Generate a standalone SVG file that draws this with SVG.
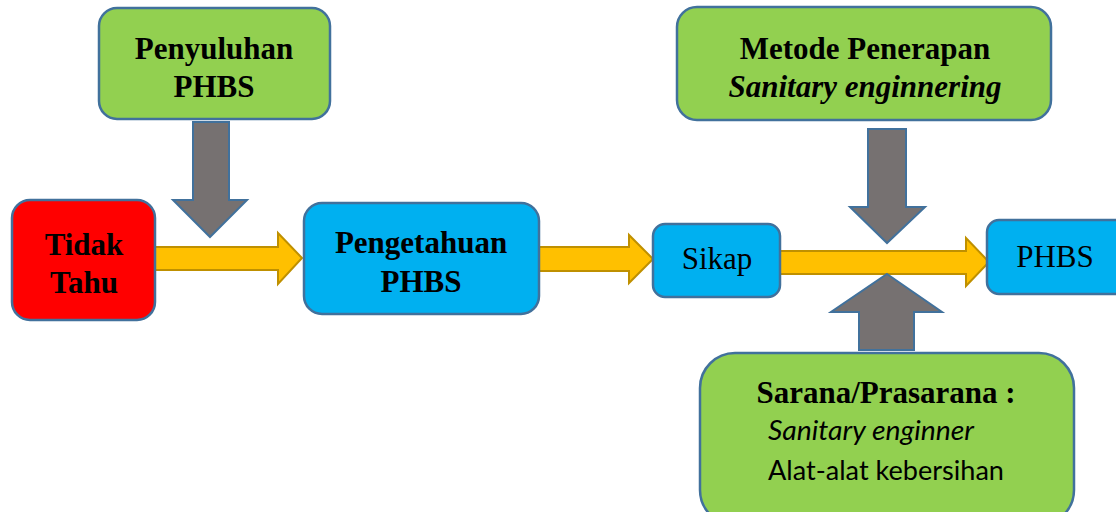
<svg xmlns="http://www.w3.org/2000/svg" width="1116" height="512" viewBox="0 0 1116 512">
<style>
.box{stroke:#41719C;stroke-width:2.5}
.green{fill:#92D050}
.blue{fill:#00B0F0}
.red{fill:#FF0000}
.yarrow{fill:#FFC000;stroke:#BF9000;stroke-width:2}
.garrow{fill:#767171;stroke:#41719C;stroke-width:2}
.tb{font-family:"Liberation Serif","Times New Roman",serif;font-weight:bold;font-size:31px;fill:#000;text-anchor:middle}
.tr{font-family:"Liberation Serif","Times New Roman",serif;font-size:31px;fill:#000;text-anchor:middle}
.ti{font-family:"Liberation Serif","Times New Roman",serif;font-weight:bold;font-style:italic;font-size:31px;fill:#000;text-anchor:middle}
.sans{font-family:Lato,"Liberation Sans",sans-serif;font-size:27px;fill:#000}
</style>
<rect width="1116" height="512" fill="#FFFFFF"/>
<g id="connectors">
<polygon class="yarrow" points="155,247 278,247 278,233 302,258 278,284 278,270 155,270"/>
<polygon class="yarrow" points="539,247 629,247 629,235 653,259 629,283 629,271 539,271"/>
<polygon class="yarrow" points="780,251 966,251 966,238 989,262 966,286 966,274 780,274"/>
<polygon class="garrow" points="193,122 229,122 229,200 247,200 210,237 173,200 193,200"/>
<polygon class="garrow" points="868,129 906,129 906,207 925,207 887,243 850,207 868,207"/>
<polygon class="garrow" points="887,274 942,312 914,312 914,350 859,350 859,312 831,312"/>
</g>
<g id="penyuluhan">
<rect class="box green" x="99" y="8" width="231" height="111" rx="18"/>
<text class="tb" x="214" y="59">Penyuluhan</text>
<text class="tb" x="214" y="97">PHBS</text>
</g>
<g id="tidak-tahu">
<rect class="box red" x="12" y="200" width="143" height="120" rx="18"/>
<text class="tb" x="84" y="255">Tidak</text>
<text class="tb" x="84" y="293">Tahu</text>
</g>
<g id="pengetahuan">
<rect class="box blue" x="304" y="203" width="235" height="111" rx="18"/>
<text class="tb" x="421" y="253">Pengetahuan</text>
<text class="tb" x="421" y="292">PHBS</text>
</g>
<g id="metode">
<rect class="box green" x="677" y="7" width="374" height="113" rx="20"/>
<text class="tb" x="865" y="59">Metode Penerapan</text>
<text class="ti" x="865" y="97">Sanitary enginnering</text>
</g>
<g id="sikap">
<rect class="box blue" x="653" y="224" width="127" height="73" rx="12"/>
<text class="tr" x="717" y="269">Sikap</text>
</g>
<g id="phbs">
<rect class="box blue" x="987" y="220" width="140" height="74" rx="12"/>
<text class="tr" x="1055" y="267">PHBS</text>
</g>
<g id="sarana">
<rect class="box green" x="700" y="353" width="374" height="172" rx="35"/>
<text class="tb" x="886" y="403">Sarana/Prasarana :</text>
<text class="sans" x="768" y="440" font-style="italic" textLength="206" lengthAdjust="spacingAndGlyphs">Sanitary enginner</text>
<text class="sans" x="768" y="480" textLength="236" lengthAdjust="spacingAndGlyphs">Alat-alat kebersihan</text>
</g>
</svg>
